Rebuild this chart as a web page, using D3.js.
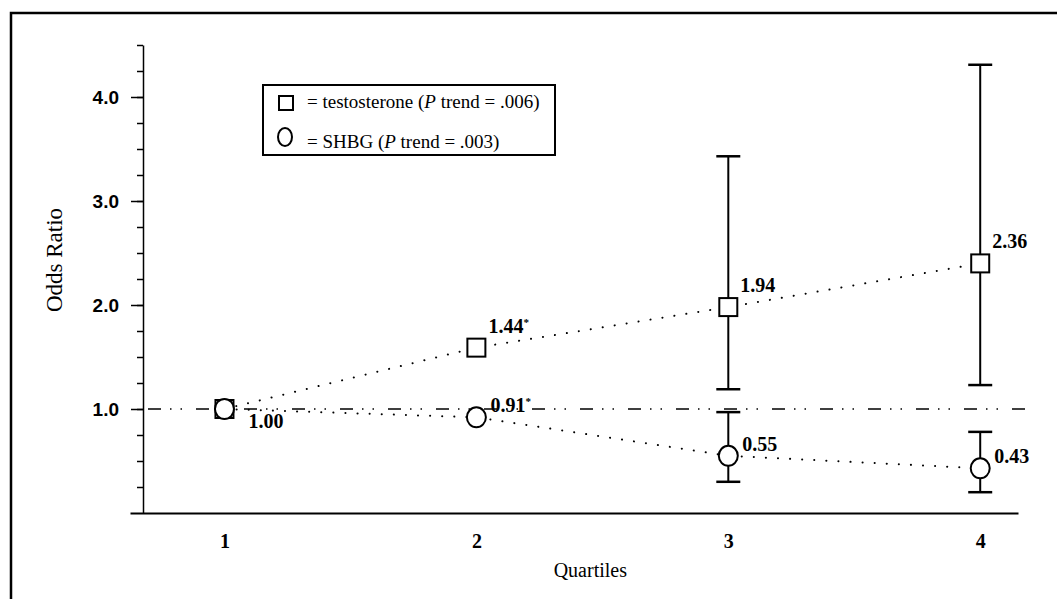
<!DOCTYPE html>
<html>
<head>
<meta charset="utf-8">
<title>Odds Ratio by Quartiles</title>
<script src="https://cdn.jsdelivr.net/npm/d3@7"></script>
<style>
body { margin: 0; background: #fff; }
svg { display: block; }
</style>
</head>
<body>
<div id="chart"></div>
<script>
// values (plotted positions, printed labels)
const quartiles = [1, 2, 3, 4];
const testoOR = [1.00, 1.59, 1.98, 2.40];
const testoLow = [null, null, 1.19, 1.23];
const testoHigh = [null, null, 3.43, 4.31];
const testoText = ["1.00", "1.44*", "1.94", "2.36"];
const shbgOR = [1.00, 0.92, 0.55, 0.43];
const shbgLow = [null, null, 0.30, 0.20];
const shbgHigh = [null, null, 0.97, 0.78];
const shbgText = [null, "0.91*", "0.55", "0.43"];
const yMajor = [1, 2, 3, 4];
const yMinor = d3.range(0.25, 4.51, 0.25);

const width = 1057, height = 599;
const serif = "'Liberation Serif', 'Times New Roman', serif";
const sans = "'Liberation Sans', Arial, sans-serif";

const svg = d3.select("#chart").append("svg")
	.attr("width", width)
	.attr("height", height);

// scanned page frame (left + top visible)
svg.append("rect")
	.attr("x", 11).attr("y", 13)
	.attr("width", 1200).attr("height", 800)
	.attr("fill", "none")
	.attr("stroke", "#000")
	.attr("stroke-width", 2.5);

const x = d3.scaleLinear().domain([0.625, 4.15]).range([130, 1018]);
const y = d3.scaleLinear().domain([0, 4.5]).range([513, 45]);
const axisX = 143;

// y axis: minor ticks, then major ticks with labels
svg.append("g")
	.attr("transform", "translate(" + axisX + ",0)")
	.call(d3.axisLeft(y).tickValues(yMinor).tickSize(6).tickSizeOuter(0).tickFormat(""))
	.call(g => g.selectAll("path,line").attr("stroke", "#000").attr("stroke-width", 1.5));
svg.append("g")
	.attr("transform", "translate(" + axisX + ",0)")
	.call(d3.axisLeft(y).tickValues(yMajor).tickSize(12).tickSizeOuter(0).tickPadding(12).tickFormat(d3.format(".1f")))
	.call(g => g.select(".domain").remove())
	.call(g => g.selectAll("line").attr("stroke", "#000").attr("stroke-width", 1.5))
	.call(g => g.selectAll("text")
		.attr("font-family", sans)
		.attr("font-weight", "bold")
		.attr("font-size", 19)
		.attr("fill", "#000"));

// x axis
svg.append("g")
	.attr("transform", "translate(0," + y(0) + ")")
	.call(d3.axisBottom(x).tickValues(quartiles).tickSize(0).tickSizeOuter(0).tickPadding(21).tickFormat(d3.format("d")))
	.call(g => g.select(".domain").attr("stroke", "#000").attr("stroke-width", 1.8))
	.call(g => g.selectAll("text")
		.attr("font-family", serif)
		.attr("font-weight", "bold")
		.attr("font-size", 20)
		.attr("fill", "#000"));

svg.append("text")
	.attr("x", x(2.5) - 12)
	.attr("y", 577)
	.attr("text-anchor", "middle")
	.attr("font-family", serif)
	.attr("font-size", 20)
	.text("Quartiles");

svg.append("text")
	.attr("transform", "translate(62," + 260 + ") rotate(-90)")
	.attr("text-anchor", "middle")
	.attr("font-family", serif)
	.attr("font-size", 23)
	.text("Odds Ratio");

// reference line at OR = 1
svg.append("line")
	.attr("x1", axisX + 5).attr("x2", x(4.18))
	.attr("y1", y(1)).attr("y2", y(1))
	.attr("stroke", "#000")
	.attr("stroke-width", 1.5)
	.attr("stroke-dasharray", "13,9,1.5,9,1.5,14");

const line = d3.line().x((d, i) => x(quartiles[i])).y(d => y(d));

[testoOR, shbgOR].forEach(function(vals){
	svg.append("path")
		.datum(vals)
		.attr("d", line)
		.attr("fill", "none")
		.attr("stroke", "#000")
		.attr("stroke-width", 2)
		.attr("stroke-linecap", "round")
		.attr("stroke-dasharray", "0.1,12");
});

// error bars
function errorBars(lows, highs){
	const g = svg.append("g").attr("stroke", "#000").attr("stroke-width", 2);
	quartiles.forEach(function(q, i){
		if (lows[i] == null) return;
		const cx = x(q);
		g.append("line").attr("x1", cx).attr("x2", cx).attr("y1", y(lows[i])).attr("y2", y(highs[i]));
		[lows[i], highs[i]].forEach(function(v){
			g.append("line").attr("x1", cx - 12).attr("x2", cx + 12).attr("y1", y(v)).attr("y2", y(v)).attr("stroke-width", 2.5);
		});
	});
}
errorBars(testoLow, testoHigh);
errorBars(shbgLow, shbgHigh);

// markers
const sq = 18;
svg.append("g").selectAll("rect")
	.data(testoOR)
	.enter()
	.append("rect")
		.attr("x", (d, i) => x(quartiles[i]) - sq / 2)
		.attr("y", d => y(d) - sq / 2)
		.attr("width", sq).attr("height", sq)
		.attr("fill", "#fff")
		.attr("stroke", "#000")
		.attr("stroke-width", 2);

svg.append("g").selectAll("ellipse")
	.data(shbgOR)
	.enter()
	.append("ellipse")
		.attr("cx", (d, i) => x(quartiles[i]))
		.attr("cy", d => y(d))
		.attr("rx", 9.5).attr("ry", 10)
		.attr("fill", "#fff")
		.attr("stroke", "#000")
		.attr("stroke-width", 2);

// value labels
function valueLabels(vals, texts, pos){
	texts.forEach(function(t, i){
		if (!t) return;
		const o = pos(i);
		const txt = svg.append("text")
			.attr("x", x(quartiles[i]) + o[0])
			.attr("y", y(vals[i]) + o[1])
			.attr("font-family", serif)
			.attr("font-weight", "bold")
			.attr("font-size", 20);
		const star = t.endsWith("*");
		txt.append("tspan").text(star ? t.slice(0, -1) : t);
		if (star) txt.append("tspan").attr("dy", -7).attr("font-size", 11).text("*");
	});
}
valueLabels(testoOR, testoText, i => i === 0 ? [24, 19] : [12, -15]);
valueLabels(shbgOR, shbgText, i => [14, -5]);

// legend
const legend = svg.append("g");
legend.append("rect")
	.attr("x", 263).attr("y", 85)
	.attr("width", 292).attr("height", 70)
	.attr("fill", "#fff")
	.attr("stroke", "#000")
	.attr("stroke-width", 2);
legend.append("rect")
	.attr("x", 279).attr("y", 96)
	.attr("width", 14).attr("height", 14)
	.attr("fill", "#fff").attr("stroke", "#000").attr("stroke-width", 2);
legend.append("ellipse")
	.attr("cx", 285).attr("cy", 137)
	.attr("rx", 7).attr("ry", 9)
	.attr("fill", "#fff").attr("stroke", "#000").attr("stroke-width", 2);

const legendRows = [
	{y: 108, name: "= testosterone (", p: ".006)"},
	{y: 148, name: "= SHBG (", p: ".003)"}
];
legendRows.forEach(function(r){
	const t = legend.append("text")
		.attr("x", 307).attr("y", r.y)
		.attr("font-family", serif)
		.attr("font-size", 19);
	t.append("tspan").text(r.name);
	t.append("tspan").attr("font-style", "italic").text("P");
	t.append("tspan").text(" trend = " + r.p);
});
</script>
</body>
</html>
